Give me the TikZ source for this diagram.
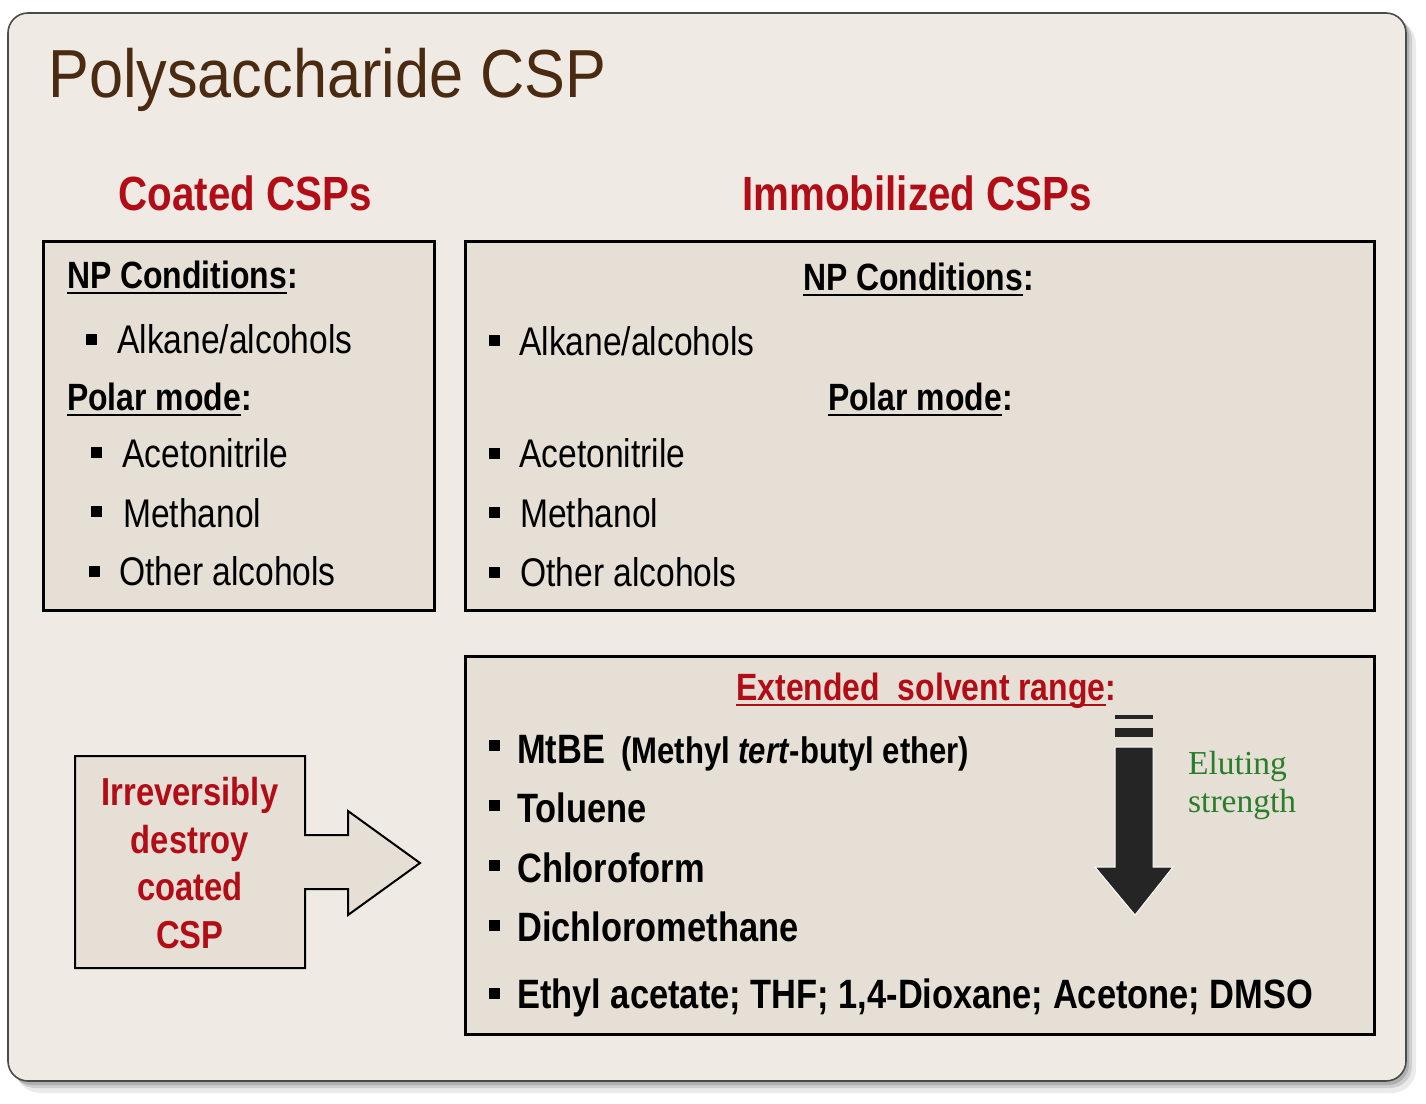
\documentclass[tikz,border=0pt]{standalone}
\usepackage{fontspec}
\setmainfont{Liberation Sans}
\newfontfamily\nar[FakeStretch=0.84]{Liberation Sans}
\newfontfamily\ttlfont[FakeStretch=0.9]{Liberation Sans}
\newfontfamily\serf{Liberation Serif}
\definecolor{outerfill}{HTML}{EFEBE4}
\definecolor{boxfill}{HTML}{E6DFD5}
\definecolor{frameline}{HTML}{4A4A4A}
\definecolor{redtxt}{HTML}{B20D16}
\definecolor{browntxt}{HTML}{4A2A10}
\definecolor{greentxt}{HTML}{2A7D2A}
\definecolor{arrowblk}{HTML}{252525}
\tikzset{
  txt/.style={inner sep=0pt, anchor=base west},
  ctxt/.style={inner sep=0pt, anchor=base},
  boxshape/.style={draw=black, line width=3pt, fill=boxfill},
  bul/.style={fill=black, inner sep=0pt, minimum size=11pt},
  reg/.style={font=\nar\fontsize{40}{46}\selectfont},
  hdr/.style={font=\nar\bfseries\fontsize{38}{44}\selectfont},
  bigb/.style={font=\nar\bfseries\fontsize{41}{46}\selectfont},
  redhead/.style={font=\nar\bfseries\fontsize{48}{54}\selectfont, text=redtxt},
  uline/.style={line width=2pt}
}
\begin{document}
\begin{tikzpicture}[x=1pt,y=-1pt]
\useasboundingbox (0,0) rectangle (1426,1103);
\fill[white] (0,0) rectangle (1426,1103);
% shadow
\fill[black, opacity=0.08, rounded corners=24pt] (16,20) rectangle (1416,1093);
\fill[black, opacity=0.12, rounded corners=22pt] (13,17) rectangle (1412,1088);
\fill[black, opacity=0.15, rounded corners=21pt] (11,15) rectangle (1409,1085);
% outer frame
\draw[frameline, line width=1.6pt, fill=outerfill, rounded corners=20pt] (8,13) rectangle (1406,1081);

% title
\node[txt, font=\ttlfont\fontsize{68}{76}\selectfont, text=browntxt] (title) at (48,97) {Polysaccharide CSP};

% column headings
\node[ctxt, redhead] (coated) at (245,210) {Coated CSPs};
\node[ctxt, redhead] (immob) at (917,210) {Immobilized CSPs};

% boxes
\draw[boxshape] (43,241) rectangle (434,610);
\draw[boxshape] (465,241) rectangle (1374,610);
\draw[boxshape] (465,656) rectangle (1374,1034);

% left box contents
\node[txt, hdr] (lnp) at (67,288) {NP Conditions};
\node[txt, hdr, anchor=base west] (lnpc) at (lnp.base east) {:};
\draw[uline] ([yshift=-5pt]lnp.base west) -- ([yshift=-5pt]lnp.base east);
\node[bul] (lb1) at (91,339) {};
\node[txt, reg] (lalk) at (117,353) {Alkane/alcohols};
\node[txt, hdr] (lpol) at (67,410) {Polar mode};
\node[txt, hdr] (lpolc) at (lpol.base east) {:};
\draw[uline] ([yshift=-5pt]lpol.base west) -- ([yshift=-5pt]lpol.base east);
\node[bul] (lb2) at (96,452) {};
\node[txt, reg] (lacn) at (122,467) {Acetonitrile};
\node[bul] (lb3) at (96,511) {};
\node[txt, reg] (lmeo) at (123,527) {Methanol};
\node[bul] (lb4) at (94,571) {};
\node[txt, reg] (loth) at (119,585) {Other alcohols};

% right top box contents
\node[ctxt, hdr] (rnp) at (913,290) {NP Conditions};
\node[txt, hdr] (rnpc) at (rnp.base east) {:};
\draw[uline] ([yshift=-5pt]rnp.base west) -- ([yshift=-5pt]rnp.base east);
\node[bul] (rb1) at (494,340) {};
\node[txt, reg] (ralk) at (519,355) {Alkane/alcohols};
\node[ctxt, hdr] (rpol) at (915,410) {Polar mode};
\node[txt, hdr] (rpolc) at (rpol.base east) {:};
\draw[uline] ([yshift=-5pt]rpol.base west) -- ([yshift=-5pt]rpol.base east);
\node[bul] (rb2) at (494,453) {};
\node[txt, reg] (racn) at (519,467) {Acetonitrile};
\node[bul] (rb3) at (494,512) {};
\node[txt, reg] (rmeo) at (520,527) {Methanol};
\node[bul] (rb4) at (494,572) {};
\node[txt, reg] (roth) at (520,586) {Other alcohols};

% right bottom box contents
\node[ctxt, hdr, text=redtxt] (ext) at (921,700) {Extended\ \ solvent range};
\node[txt, hdr, text=redtxt] (extc) at (ext.base east) {:};
\draw[uline, redtxt] ([yshift=-5pt]ext.base west) -- ([yshift=-5pt]ext.base east);
\node[bul] (eb1) at (494,745) {};
\node[txt, bigb] (mtbe) at (517,763) {MtBE};
\node[txt, font=\nar\bfseries\fontsize{37}{42}\selectfont] (mtbe2) at (621,763) {(Methyl \textit{tert}-butyl ether)};
\node[bul] (eb2) at (494,805) {};
\node[txt, bigb] (tol) at (517,822) {Toluene};
\node[bul] (eb3) at (494,865) {};
\node[txt, bigb] (chl) at (517,882) {Chloroform};
\node[bul] (eb4) at (494,925) {};
\node[txt, bigb] (dcm) at (517,941) {Dichloromethane};
\node[bul] (eb5) at (494,993) {};
\node[txt, bigb] (eth) at (517,1008) {Ethyl acetate; THF; 1,4-Dioxane; Acetone; DMSO};

% eluting strength arrow
\fill[arrowblk] (1115,715) rectangle (1153,719);
\fill[arrowblk] (1115,728) rectangle (1153,737);
\draw[white, line width=1pt, fill=arrowblk] (1115,747) -- (1153,747) -- (1153,867) -- (1173,867) -- (1135,915) -- (1095,867) -- (1115,867) -- cycle;
\node[txt, font=\serf\fontsize{33.5}{38}\selectfont, text=greentxt, align=left, anchor=north west] (elut) at (1188,751) {Eluting\\strength};

% irreversibly arrow shape
\draw[draw=black, line width=2pt, fill=boxfill] (75,756) -- (305,756) -- (305,835) -- (348,835) -- (348,811) -- (420,863) -- (348,915) -- (348,889) -- (305,889) -- (305,968) -- (75,968) -- cycle;
\node[font=\nar\bfseries\fontsize{39}{47.5}\selectfont, text=redtxt, align=center, inner sep=0pt] (irr) at (190,863) {Irreversibly\\destroy\\coated\\CSP};
\end{tikzpicture}
\end{document}
